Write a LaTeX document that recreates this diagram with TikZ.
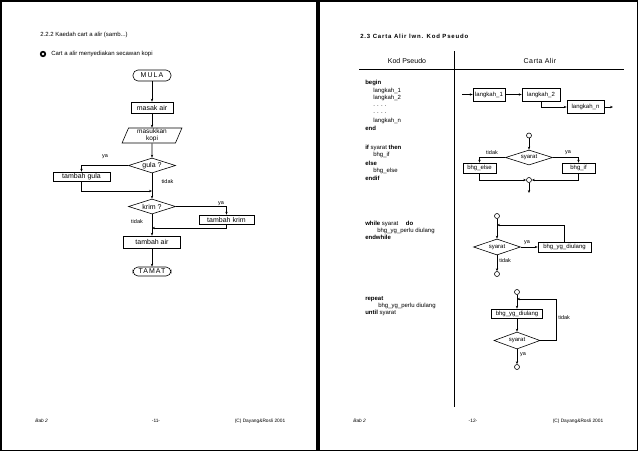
\documentclass[tikz,border=0pt]{standalone}
\usepackage{fontspec}
\setmainfont{Liberation Sans}
\usetikzlibrary{arrows.meta,shapes.geometric,positioning}

\begin{document}
\begin{tikzpicture}[x=1pt, y=-1pt, line width=0.6pt,
  fc/.style={font=\fontsize{7}{7}\selectfont},
  fr/.style={font=\fontsize{6}{6}\selectfont},
  box/.style={draw, rectangle, inner sep=0pt, fc},
  rbox/.style={draw, rectangle, inner sep=0pt, fr},
  term/.style={draw, rectangle, rounded corners=5pt, inner sep=0pt, minimum width=38pt, fc},
  dec/.style={draw, diamond, aspect=3, inner sep=0pt, minimum width=47pt, minimum height=15pt, fc},
  rdec/.style={draw, diamond, aspect=3, inner sep=0pt, minimum width=47pt, minimum height=16pt, fr},
  io/.style={draw, trapezium, trapezium left angle=72, trapezium right angle=108,
    trapezium stretches=true, inner sep=0pt, font=\fontsize{6.5}{6.5}\selectfont, align=center},
  con/.style={draw, circle, inner sep=0pt, minimum size=5pt},
  lbl/.style={inner sep=0pt, font=\fontsize{5.5}{6}\selectfont},
  code/.style={anchor=west, inner sep=0pt, font=\fontsize{6}{6}\selectfont},
  foot/.style={inner sep=0pt, font=\fontsize{4.8}{5}\selectfont},
  arr/.style={-{Stealth[length=3pt,width=2.4pt]}}]

\useasboundingbox (0,0) rectangle (638,451);

% Pages
\draw[line width=1.5pt] (0.75,0.75) rectangle (317,450.25);
\draw[line width=1.5pt] (319,0.75) rectangle (637.25,450.25);

% ---------- Left page ----------
\node[anchor=west, inner sep=0pt, font=\fontsize{6}{7}\selectfont] (title1) at (40,35) {2.2.2 Kaedah cart a alir (samb...)};
\fill (43,54) circle (3.2pt);
\fill[white] (43,54) circle (1.3pt);
\node[anchor=west, inner sep=0pt, font=\fontsize{6}{7}\selectfont] (sub1) at (51,54) {Cart a alir menyediakan secawan kopi};

% Flowchart kopi
\node[term, minimum height=11pt] (mula) at (152,75.5) {\addfontfeature{LetterSpace=15}MULA};
\node[box, minimum width=42pt, minimum height=11pt] (masak) at (152,107.5) {masak air};
\node[io, minimum width=60pt, minimum height=15pt] (kopi) at (152,135.5) {masukkan\\kopi};
\node[dec] (gula) at (152,165.5) {gula ?};
\node[box, minimum width=57pt, minimum height=9pt] (tgula) at (81.5,176.5) {tambah gula};
\coordinate (j1) at (152,191);
\node[dec] (krim) at (152,206.5) {krim ?};
\node[box, minimum width=55pt, minimum height=9pt] (tkrim) at (226.5,219.5) {tambah krim};
\coordinate (j2) at (152,228);
\node[box, minimum width=57pt, minimum height=12pt] (tair) at (152,242) {tambah air};
\node[term, minimum height=9pt] (tamat) at (152,271.5) {\addfontfeature{LetterSpace=15}TAMAT};

\draw[arr] (mula) -- (masak);
\draw[arr] (masak) -- (kopi);
\draw[arr] (kopi) -- (gula);
\draw[arr] (gula.west) -| (tgula.north);
\draw[arr] (tgula.south) |- (j1);
\draw[arr] (gula) -- (krim);
\draw[arr] (krim.east) -| (tkrim.north);
\draw[arr] (tkrim.south) |- (j2);
\draw[arr] (krim) -- (tair);
\draw[arr] (tair) -- (tamat);

\node[lbl] at (105,157) {ya};
\node[lbl] at (167.5,182) {tidak};
\node[lbl] at (221,204) {ya};
\node[lbl] at (137,222) {tidak};

% Footer
\node[foot, anchor=west] at (35,421) {\itshape Bab 2};
\node[foot] at (156,421) {-11-};
\node[foot] at (260,421) {(C) Dayang\&Rosli 2001};

% ---------- Right page ----------
\node[anchor=west, inner sep=0pt, font=\fontsize{6}{7}\bfseries\addfontfeature{LetterSpace=14}] (title2) at (360,36) {2.3 Carta Alir lwn. Kod Pseudo};

% Table
\draw (454,51) -- (454,407);
\draw (359,69) -- (624,69);
\node[fc] at (407,61) {Kod Pseudo};
\node[fc] at (540,61) {\addfontfeature{LetterSpace=6}Carta Alir};

% Pseudo code
\node[code] at (365,83) {\bfseries begin};
\node[code] at (373,91) {langkah\_1};
\node[code] at (373,98) {langkah\_2};
\node[code] at (373,106) {. . . .};
\node[code] at (373,113) {. . . .};
\node[code] at (373,121) {langkah\_n};
\node[code] at (365,128) {\bfseries end};

\node[code] at (365,148) {\textbf{if} syarat \textbf{then}};
\node[code] at (373,155) {bhg\_if};
\node[code] at (365,163) {\bfseries else};
\node[code] at (373,171) {bhg\_else};
\node[code] at (365,178) {\bfseries endif};

\node[code] at (365,224) {\textbf{while} syarat \quad\textbf{do}};
\node[code] at (377,231) {bhg\_yg\_perlu diulang};
\node[code] at (365,237) {\bfseries endwhile};

\node[code] at (365,299) {\bfseries repeat};
\node[code] at (378,306) {bhg\_yg\_perlu diulang};
\node[code] at (365,313) {\textbf{until} syarat};

% Sequence
\coordinate (s0) at (462,94.5);
\node[rbox, minimum width=32pt, minimum height=13pt] (l1) at (489,94.5) {langkah\_1};
\node[rbox, minimum width=38pt, minimum height=13pt] (l2) at (541,94.5) {langkah\_2};
\node[rbox, minimum width=37pt, minimum height=13pt] (ln) at (585.5,107) {langkah\_n};
\coordinate (s1) at (613,107);
\draw[arr] (s0) -- (l1);
\draw[arr] (l1) -- (l2);
\draw[arr] (l2.south) |- (ln.west);
\draw[arr] (ln) -- (s1);

% If-else
\node[con] (c1) at (529,135.5) {};
\node[rdec, minimum height=15pt] (ifdec) at (529,157.5) {syarat};
\node[rbox, minimum width=33pt, minimum height=10pt] (belse) at (479.5,168) {bhg\_else};
\node[rbox, minimum width=33pt, minimum height=10pt] (bif) at (578.5,168) {bhg\_if};
\node[con] (c2) at (529,180) {};
\coordinate (c3) at (529,193);
\draw[arr] (c1) -- (ifdec);
\draw[arr] (ifdec.west) -| (belse.north);
\draw[arr] (ifdec.east) -| (bif.north);
\draw[arr] (belse.south) |- (c2.west);
\draw[arr] (bif.south) |- (c2.east);
\draw[arr] (c2) -- (c3);
\node[lbl] at (492,153) {tidak};
\node[lbl] at (568,153) {ya};

% While
\node[con] (w0) at (497,216) {};
\coordinate (wj) at (497,225);
\node[rdec] (wdec) at (497,247) {syarat};
\node[rbox, minimum width=53pt, minimum height=10pt] (wbody) at (564.5,247) {bhg\_yg\_diulang};
\node[con] (w1) at (497,274) {};
\draw[arr] (w0) -- (wdec);
\draw[arr] (wdec) -- (wbody);
\draw[arr] (wbody.north) |- (wj);
\draw[arr] (wdec) -- (w1);
\node[lbl] at (527,243) {ya};
\node[lbl, anchor=west] at (499,261) {tidak};

% Repeat
\node[con] (r0) at (517,292) {};
\coordinate (rj) at (517,299);
\node[rbox, minimum width=51pt, minimum height=9pt] (rbody) at (517,313.5) {bhg\_yg\_diulang};
\node[rdec, minimum width=46pt, minimum height=17pt] (rdec) at (517,340.5) {syarat};
\coordinate (rk) at (556,340.5);
\node[con] (r1) at (517,367) {};
\draw[arr] (r0) -- (rbody);
\draw[arr] (rbody) -- (rdec);
\draw (rdec.east) -- (rk);
\draw[arr] (rk) |- (rj);
\draw[arr] (rdec) -- (r1);
\node[lbl, anchor=west] at (558,318) {tidak};
\node[lbl] at (523,355) {ya};

% Footer
\node[foot, anchor=west] at (353,421) {\itshape Bab 2};
\node[foot] at (473,421) {-12-};
\node[foot] at (578,421) {(C) Dayang\&Rosli 2001};

\end{tikzpicture}
\end{document}
